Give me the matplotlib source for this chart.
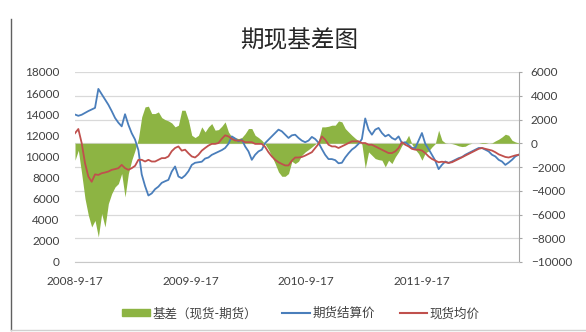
import matplotlib
matplotlib.use('Agg')
import matplotlib.pyplot as plt
from matplotlib.patches import Patch
from matplotlib.lines import Line2D
import pandas as pd

# values, roughly every 10 days from 2008-9-17
futures = [13970, 13850, 13950, 14130, 14300, 14450, 14600, 16400, 15900, 15400,
           14900, 14300, 13650, 13200, 12850, 14000, 13000, 12200, 11600, 10600,
           8300, 7200, 6300, 6500, 6900, 7140, 7500, 7650, 7780, 8570, 9050, 8100,
           7940, 8200, 8600, 9200, 9400, 9450, 9500, 9800, 9900, 10150,
           10300, 10450, 10600, 10800, 11200, 11900, 11700, 11430, 11600, 10950,
           10480, 9680, 10160, 10480, 10640, 11270, 11590, 11900, 12220, 12540,
           12380, 12060, 11750,
           12000, 12060, 11750, 11500, 11350, 11500, 11850, 11650, 11300, 10700,
           10150, 9750, 9750, 9650, 9350, 9400, 9900, 10300, 10650, 10880,
           11200, 11650, 13600, 12540, 12060, 12540, 12700, 12220, 11900, 12060,
           11750, 11590, 11900,
           11270, 11350, 11100, 10800, 10800, 11500, 12220, 11200, 10700, 10150,
           9600, 8800, 9210, 9520, 9370, 9520, 9680, 9840, 9940, 10160,
           10320, 10480, 10640, 10800, 10800, 10640, 10480, 10160, 10000, 9680,
           9520, 9200, 9420, 9680, 10000, 10160]

spot = [12200, 12600, 11270, 9370, 8100, 7600, 8300, 8250, 8410, 8480,
        8570, 8730, 8800, 8890, 9200, 8890, 8730, 8890, 9110, 9680,
        9680, 9520, 9680, 9520, 9520, 9680, 9840, 9840, 10000, 10500, 10800, 10950,
        10550, 10640, 10300, 10000, 9900, 10160, 10550, 10800, 11030, 11190,
        11190, 11270, 11670, 12000, 11900, 11670, 11510, 11510, 11510, 11350,
        11350, 11350, 11190, 11190, 11190, 10900, 10400, 10000, 9680, 9450,
        9290, 9150, 9150,
        9600, 9900, 9900, 9950, 10080, 10240, 10400, 10800, 11190, 11900,
        11590, 11110, 10950, 10950, 10800, 10950, 11110, 11270, 11430, 11430,
        11430, 11270, 11270, 11110, 11110, 10950, 10800, 10640, 10480, 10320,
        10320, 10480, 10800,
        11350, 11110, 10950, 10720, 10640, 10640, 10560, 10320, 10000, 9760,
        9600, 9450, 9500, 9450, 9400, 9450, 9600, 9760, 9920, 10080,
        10240, 10400, 10560, 10720, 10800, 10720, 10640, 10560, 10400, 10200,
        10080, 9950, 9900, 10000, 10100, 10160]

basis = [-1430, -590, -2550, -4660, -6060, -7050, -6500, -7890, -5920, -7050,
         -5080, -4240, -3680, -3400, -2550, -4520, -2550, -1430, -590, 390,
         2220, 3060, 3120, 2500, 2500, 2640, 2160, 1990, 1880, 1710, 1380, 1520,
         2780, 2780, 1940, 670, 480, 670, 1380, 950, 1380, 1660,
         1100, 1150, 1430, 1800, 950, 530, 480, 390, 480, 810,
         1240, 1240, 670, 480, 250, -80, -530, -1090, -1710, -2410,
         -2780, -2780, -2550,
         -1520, -1710, -1520, -1010, -730, -530, -310, -80, 200, 1380,
         1380, 1430, 1520, 1520, 1880, 1800, 1240, 950, 670, 420,
         200, -80, -2100, -730, -1010, -1290, -1380, -1430, -1990, -1430,
         -1710, -1150, -730,
         -170, 170, 670, -80, -530, -870, -1430, -810, -650, -310,
         -30, 1100, 250, 30, 0, -30, -110, -220, -280, -250,
         -80, 0, 0, 0, 60, 60, 0, 30, 200, 340,
         530, 760, 670, 250, 110, 30]

tick_dates = ['2008-09-17', '2009-09-17', '2010-09-17', '2011-09-17']
tick_labels = ['2008-9-17', '2009-9-17', '2010-9-17', '2011-9-17']
legend_labels = ['基差（现货-期货）', '期货结算价', '现货均价']

dates = pd.date_range('2008-09-17', '2012-07-19', periods=len(futures))

plt.rcParams['font.family'] = ['Lato', 'Noto Sans CJK SC', 'DejaVu Sans']
txt = '#404040'
green = '#8DB443'
blue = '#4A7EBB'
red = '#C0504D'

fig = plt.figure(figsize=(5.86, 3.32), dpi=100)
rect = [75 / 586, 70 / 332, 444 / 586, 190 / 332]

# basis on the right axis, drawn underneath
axb = fig.add_axes(rect)
axb.fill_between(dates, 0, basis, color=green, lw=0)
axb.set_ylim(-10000, 6000)
axb.set_yticks(range(-10000, 6001, 2000))
axb.yaxis.tick_right()
axb.grid(axis='y', color='#d9d9d9', lw=0.9)
axb.set_axisbelow(True)
for s in ['left', 'top']:
    axb.spines[s].set_visible(False)
axb.spines['right'].set_color('#a6a6a6')
axb.spines['bottom'].set_color('#c8c8c8')
axb.tick_params(axis='y', length=2.5, color='#a6a6a6', pad=6, labelsize=8.5, labelcolor=txt)
axb.set_xticks(pd.to_datetime(tick_dates))
axb.set_xticklabels(tick_labels)
axb.tick_params(axis='x', length=0, pad=10, labelsize=8.5, labelcolor=txt)
axb.set_xlim(pd.Timestamp('2008-09-17'), pd.Timestamp('2012-07-20'))

# prices on the left axis, on top
axp = fig.add_axes(rect, sharex=axb)
axp.patch.set_visible(False)
axp.plot(dates, futures, color=blue, lw=1.3)
axp.plot(dates, spot, color=red, lw=1.3)
axp.set_ylim(0, 18000)
axp.set_yticks(range(0, 18001, 2000))
for s in axp.spines.values():
    s.set_visible(False)
axp.tick_params(axis='y', length=0, pad=11, labelsize=8.5, labelcolor=txt)
axp.tick_params(axis='x', length=0, labelbottom=False)

fig.text(299 / 586, 1 - 41 / 332, '期现基差图', ha='center', va='center',
         fontsize=17, color='#262626', family=['Noto Sans CJK SC'])

handles = [Patch(color=green), Line2D([], [], color=blue, lw=1.5), Line2D([], [], color=red, lw=1.5)]
leg = fig.legend(handles, legend_labels, loc='center', bbox_to_anchor=(301 / 586, 1 - 313 / 332),
                 ncol=3, frameon=False, fontsize=9, handlelength=2.2, handleheight=0.5,
                 handletextpad=0.2, columnspacing=2.0)
for t in leg.get_texts():
    t.set_color(txt)

# outer chart frame
fig.add_artist(Line2D([11 / 586, 11 / 586], [2 / 332, 1 - 19 / 332], transform=fig.transFigure,
                      color='#606060', lw=1.0))
fig.add_artist(Line2D([11 / 586, 1], [2 / 332, 2 / 332], transform=fig.transFigure,
                      color='#d0d0d0', lw=1.0))

fig.savefig('out.png', dpi=100)
